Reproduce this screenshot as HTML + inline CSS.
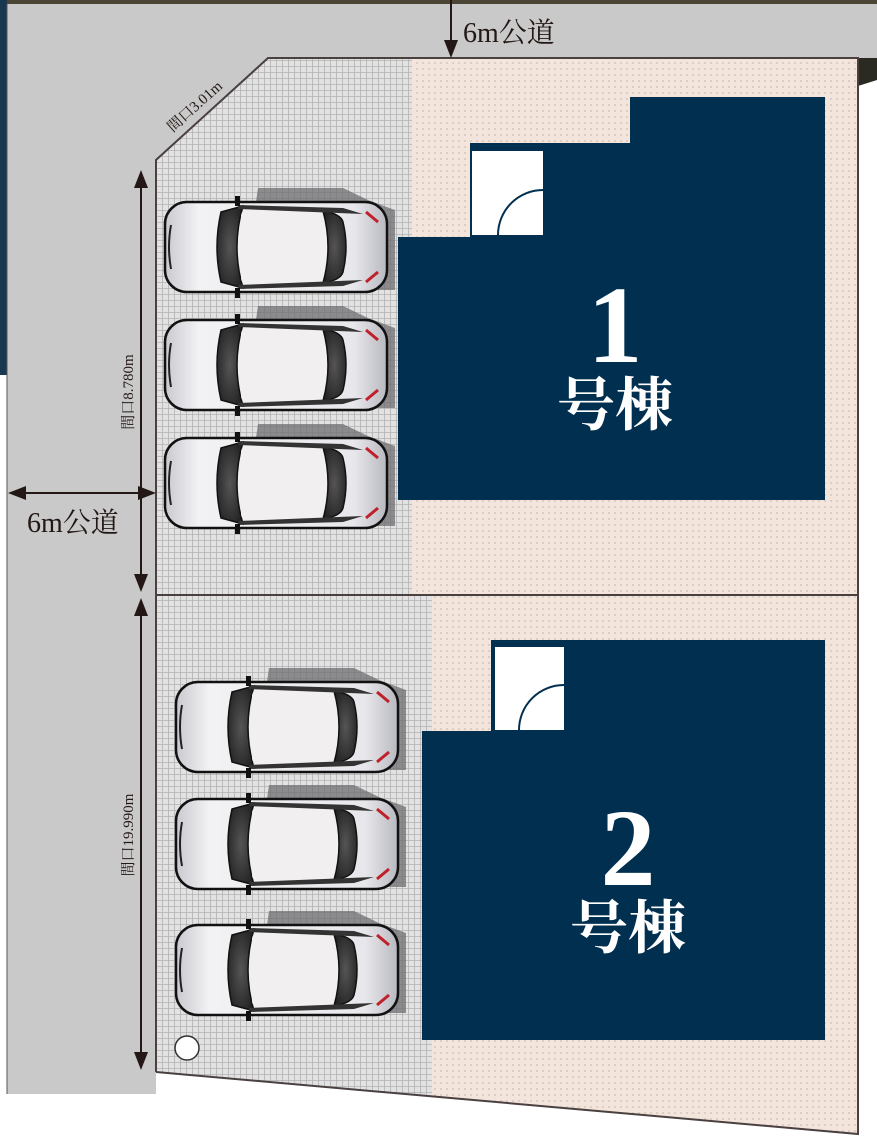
<!DOCTYPE html>
<html><head><meta charset="utf-8"><style>
html,body{margin:0;padding:0;background:#fff;}
svg{display:block;}
text{font-family:"Liberation Serif","Noto Serif CJK SC",serif;}
</style></head><body>
<svg width="877" height="1137" viewBox="0 0 877 1137" xmlns="http://www.w3.org/2000/svg">
<defs>
<pattern id="grid" width="6" height="6" patternUnits="userSpaceOnUse">
<rect width="6" height="6" fill="#e2e2e2"/>
<path d="M0 0.5H6M0.5 0V6" stroke="#b2b2b2" stroke-width="0.8"/>
</pattern>
<pattern id="dots" width="6" height="6" patternUnits="userSpaceOnUse">
<rect width="6" height="6" fill="#f4e5dc"/>
<circle cx="3" cy="3" r="0.9" fill="#c7bdb8"/>
</pattern>
<linearGradient id="body" x1="0" x2="1" y1="0" y2="0">
<stop offset="0" stop-color="#c9c9cf"/><stop offset="0.15" stop-color="#f2f2f4"/><stop offset="0.85" stop-color="#e8e8ec"/><stop offset="1" stop-color="#b8b8c0"/>
</linearGradient>
<radialGradient id="glass" cx="0.5" cy="0.5" r="0.6">
<stop offset="0" stop-color="#555"/><stop offset="1" stop-color="#222"/>
</radialGradient>
<g id="car">
<path d="M95 -12 L180 -12 L205 0 L232 10 L232 90 L80 90 Z" fill="#6e6e72" opacity="0.75"/>
<rect x="2" y="2" width="222" height="90" rx="22" fill="url(#body)" stroke="#111" stroke-width="2.5"/>
<path d="M58 12 Q50 47 58 82 L80 88 Q68 47 80 6 Z" fill="url(#glass)" stroke="#111" stroke-width="1.5"/>
<rect x="78" y="10" width="86" height="74" rx="6" fill="#f2eff0"/>
<path d="M160 11 Q178 14 180 22 Q186 47 180 72 Q178 80 160 83 Q170 47 160 11Z" fill="url(#glass)" stroke="#111" stroke-width="1.5"/>
<path d="M75 5 L180 8 L200 14 L75 9Z" fill="#333"/>
<path d="M75 89 L180 86 L200 80 L75 85Z" fill="#333"/>
<path d="M203 12 L215 22" stroke="#c0202a" stroke-width="3"/>
<path d="M203 82 L215 72" stroke="#c0202a" stroke-width="3"/>
<path d="M8 25 Q4 47 8 69" stroke="#222" stroke-width="2" fill="none"/>
<rect x="72" y="-4" width="5" height="10" fill="#111"/>
<rect x="72" y="88" width="5" height="10" fill="#111"/>
</g>
</defs>
<rect x="0" y="0" width="877" height="4" fill="#4a4534"/>
<rect x="0" y="0" width="7" height="375" fill="#17384f"/>
<polygon points="858,58 877,58 877,80 858,86" fill="#2b2a22"/>
<rect x="7" y="4" width="870" height="54" fill="#c9c9c9"/>
<rect x="7" y="4" width="149" height="1090" fill="#c9c9c9"/>
<polygon points="156,56 270,56 156,162" fill="#c9c9c9"/>
<line x1="7" y1="4" x2="7" y2="1094" stroke="#555" stroke-width="1"/>
<polygon points="156,160 268,58 412,58 412,595 156,595" fill="url(#grid)"/>
<rect x="412" y="58" width="446" height="537" fill="url(#dots)"/>
<polygon points="156,595 432,595 432,1097 156,1072" fill="url(#grid)"/>
<polygon points="432,595 858,595 858,1134 432,1097" fill="url(#dots)"/>
<polyline points="156,1072 156,160 268,58 858,58 858,1134 156,1072" fill="none" stroke="#4a4040" stroke-width="2"/>
<line x1="156" y1="595" x2="858" y2="595" stroke="#4a4040" stroke-width="2"/>
<path d="M630 97 H825 V500 H398 V237 H470 V143 H630 Z" fill="#002f4f"/>
<rect x="472" y="151" width="71" height="84" fill="#fff"/>
<path d="M498 235 A45 45 0 0 1 543 190" fill="none" stroke="#002f4f" stroke-width="2"/>
<text x="615" y="362" font-size="110" fill="#fff" text-anchor="middle" font-weight="bold">1</text>
<text x="615" y="425" font-size="58" fill="#fff" text-anchor="middle" font-weight="bold">号棟</text>
<path d="M491 640 H825 V1040 H422 V731 H491 Z" fill="#002f4f"/>
<rect x="495" y="647" width="69" height="83" fill="#fff"/>
<path d="M519 730 A45 45 0 0 1 564 685" fill="none" stroke="#002f4f" stroke-width="2"/>
<text x="628" y="885" font-size="110" fill="#fff" text-anchor="middle" font-weight="bold">2</text>
<text x="628" y="948" font-size="58" fill="#fff" text-anchor="middle" font-weight="bold">号棟</text>
<use href="#car" transform="translate(163,200)"/>
<use href="#car" transform="translate(163,318)"/>
<use href="#car" transform="translate(163,436)"/>
<use href="#car" transform="translate(174,680)"/>
<use href="#car" transform="translate(174,797)"/>
<use href="#car" transform="translate(174,923)"/>
<circle cx="187" cy="1048" r="12" fill="#fff" stroke="#333" stroke-width="1.5"/>
<g stroke="#231815" stroke-width="2" fill="#231815">
<line x1="141" y1="180" x2="141" y2="585"/>
<polygon points="141,170 134,188 148,188" stroke="none"/>
<polygon points="141,592 134,574 148,574" stroke="none"/>
<line x1="141" y1="606" x2="141" y2="1060"/>
<polygon points="141,598 134,616 148,616" stroke="none"/>
<polygon points="141,1070 134,1052 148,1052" stroke="none"/>
<line x1="16" y1="493" x2="148" y2="493"/>
<polygon points="8,493 26,486 26,500" stroke="none"/>
<polygon points="156,493 138,486 138,500" stroke="none"/>
<line x1="451" y1="0" x2="451" y2="48"/>
<polygon points="451,58 444,40 458,40" stroke="none"/>
</g>
<text x="463" y="42" font-size="28" fill="#231815">6m公道</text>
<text x="27" y="532" font-size="28" fill="#231815">6m公道</text>
<text transform="translate(133,392) rotate(-90)" font-size="15" fill="#231815" text-anchor="middle">間口8.780m</text>
<text transform="translate(133,835) rotate(-90)" font-size="15" fill="#231815" text-anchor="middle">間口19.990m</text>
<text transform="translate(198,110) rotate(-42)" font-size="15" fill="#231815" text-anchor="middle">間口3.01m</text>
</svg>
</body></html>
